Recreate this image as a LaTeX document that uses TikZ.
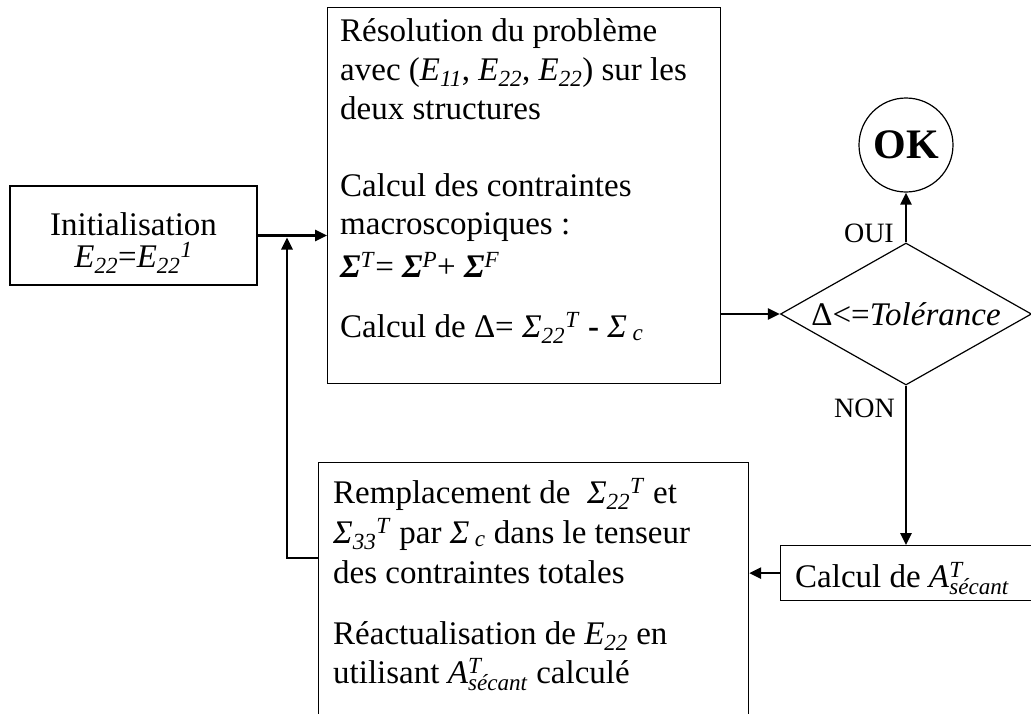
\documentclass[tikz,border=0pt]{standalone}
\usepackage{fontspec}
\setmainfont{Liberation Serif}
\usetikzlibrary{arrows.meta,shapes.geometric}
\newcommand\Asec{\textit{A}\rlap{\textsuperscript{\textit{T}}}\textsubscript{\textit{sécant}}}
\newcommand\Sig{\textit{Σ}}
\newcommand\bSig{\textbf{\textit{Σ}}}
\begin{document}
\begin{tikzpicture}[x=1pt,y=-1pt,
  box/.style={draw, line width=1.2pt, inner sep=0pt, rectangle},
  txt/.style={inner sep=0pt, font=\fontsize{33}{40}\selectfont, anchor=base west},
  ctxt/.style={txt, anchor=base},
  lbl/.style={inner sep=0pt, font=\fontsize{28}{34}\selectfont, anchor=base east},
  conn/.style={line width=2.6pt, -{Triangle[length=12pt,width=11pt]}},
  plain/.style={line width=2.6pt}]
\useasboundingbox (0,0) rectangle (1031,713);
% boxes
\node[box, minimum width=247pt, minimum height=99pt] (init) at (133.5,235.5) {};
\node[ctxt] (init1) at (133.5,235) {Initialisation};
\node[ctxt] (init2) at (133.5,267) {\textit{E}\textsubscript{\textit{22}}=\textit{E}\textsubscript{\textit{22}}\textsuperscript{\textit{1}}};

\node[box, minimum width=393pt, minimum height=376pt, anchor=north west] (res) at (327,7) {};
\node[txt] (r1) at (340,41) {Résolution du problème};
\node[txt] (r2) at (340,80) {avec (\textit{E}\textsubscript{\textit{11}}, \textit{E}\textsubscript{\textit{22}}, \textit{E}\textsubscript{\textit{22}}) sur les};
\node[txt] (r3) at (340,119) {deux structures};
\node[txt] (r4) at (340,196) {Calcul des contraintes};
\node[txt] (r5) at (340,234) {macroscopiques :};
\node[txt] (r6) at (340,277) {\bSig\textsuperscript{\textit{T}}= \bSig\textsuperscript{\textit{P}}+ \bSig\textsuperscript{\textit{F}}};
\node[txt] (r7) at (340,337) {Calcul de Δ= \Sig\textsubscript{\textit{22}}\textsuperscript{\textit{T}} \textbf{-} \Sig\,\textsubscript{\textit{c}}};

\node[draw, circle, line width=1.2pt, minimum size=94pt, inner sep=0pt, font=\fontsize{42}{48}\selectfont\bfseries] (ok) at (906,145) {OK};

\node[draw, diamond, aspect=1.77, line width=1.2pt, inner sep=0pt, minimum width=251pt, minimum height=142pt, font=\fontsize{33}{40}\selectfont] (dia) at (906,314) {Δ<=\textit{Tolérance}};

\node[box, minimum width=270pt, minimum height=55pt, anchor=north west] (calc) at (780,545) {};
\node[txt] (c1) at (795,587) {Calcul de \Asec};

\node[box, minimum width=430pt, minimum height=260pt, anchor=north west] (rep) at (318,462) {};
\node[txt] (p1) at (333,503) {Remplacement de~ \Sig\textsubscript{\textit{22}}\textsuperscript{\textit{T}} et};
\node[txt] (p2) at (333,543) {\Sig\textsubscript{\textit{33}}\textsuperscript{\textit{T}} par \Sig\,\textsubscript{\textit{c}} dans le tenseur};
\node[txt] (p3) at (333,583) {des contraintes totales};
\node[txt] (p4) at (333,644) {Réactualisation de \textit{E}\textsubscript{\textit{22}} en};
\node[txt] (p5) at (333,683) {utilisant \Asec{} calculé};

\node[lbl] (oui) at (894,242) {OUI};
\node[lbl] (non) at (895,417) {NON};

% connectors
\coordinate (fb) at (287,558);
\coordinate (jn) at (287,237.5);
\draw[conn] (init.east) -- (res.west |- init.east);
\draw[conn] (rep.west |- fb) -- (fb) -- (jn);
\draw[conn] (res.east |- dia.west) -- (dia.west);
\draw[conn] (dia.north) -- (ok.south);
\draw[conn] (dia.south) -- (dia.south |- calc.north);
\draw[conn] (calc.west) -- (rep.east |- calc.west);
\end{tikzpicture}
\end{document}
